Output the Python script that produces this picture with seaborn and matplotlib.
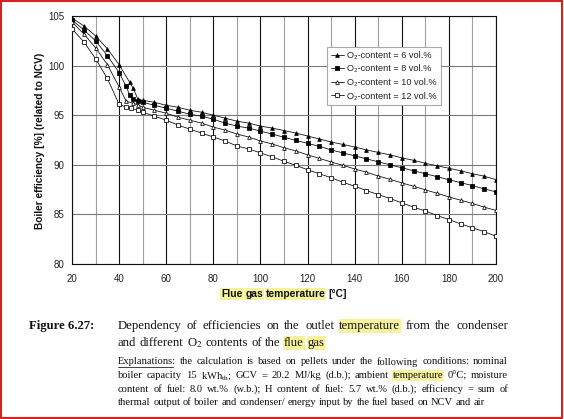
import numpy as np
import pandas as pd
import matplotlib
matplotlib.use("Agg")
import matplotlib.pyplot as plt
import seaborn as sns
from matplotlib.lines import Line2D
from matplotlib.patches import Rectangle
from matplotlib.ticker import MultipleLocator

# ---------------- data ----------------
temp_tail = [50, 55, 60, 65, 70, 75, 80, 85, 90, 95, 100, 105, 110, 115, 120, 125,
             130, 135, 140, 145, 150, 155, 160, 165, 170, 175, 180, 185, 190, 195, 200]

temp_o6 = [20, 25, 30, 35, 40, 44.5, 46, 48] + temp_tail
eff_o6 = [104.8, 104.0, 103.0, 101.7, 100.1, 98.3, 97.7, 96.6,
          96.5, 96.3, 96.0, 95.8, 95.5, 95.3, 95.0, 94.7, 94.4, 94.2, 93.9, 93.7,
          93.45, 93.2, 92.9, 92.6, 92.3, 92.05, 91.8, 91.5, 91.25, 91.0, 90.7, 90.45,
          90.15, 89.9, 89.65, 89.4, 89.1, 88.85, 88.5]

temp_o8 = [20, 25, 30, 35, 40, 43, 44.5, 46, 48] + temp_tail
eff_o8 = [104.6, 103.6, 102.5, 101.0, 99.3, 97.9, 97.0, 96.6, 96.4,
          96.3, 96.0, 95.7, 95.4, 95.1, 94.9, 94.6, 94.2, 93.9, 93.7, 93.4, 93.1,
          92.77, 92.46, 92.16, 91.86, 91.5, 91.2, 90.9, 90.6, 90.3, 90.0, 89.7, 89.4,
          89.1, 88.8, 88.5, 88.2, 87.9, 87.57, 87.27]

temp_o10 = [20, 25, 30, 35, 40, 43, 46, 48] + temp_tail
eff_o10 = [104.4, 103.2, 101.8, 100.1, 97.85, 96.4, 96.2, 96.05,
           95.8, 95.5, 95.2, 94.8, 94.5, 94.2, 93.8, 93.5, 93.1, 92.8, 92.4, 92.1,
           91.72, 91.4, 91.0, 90.65, 90.28, 89.95, 89.58, 89.25, 88.87, 88.54, 88.17,
           87.84, 87.47, 87.13, 86.76, 86.43, 86.1, 85.73, 85.4]

temp_o12 = [20, 25, 30, 35, 40, 43, 45, 48] + temp_tail
eff_o12 = [103.7, 102.4, 100.7, 98.7, 96.1, 95.8, 95.7, 95.5,
           95.3, 94.9, 94.5, 94.0, 93.6, 93.2, 92.8, 92.4, 91.9, 91.6, 91.2, 90.8,
           90.35, 89.95, 89.5, 89.1, 88.7, 88.24, 87.84, 87.4, 87.0, 86.6, 86.16,
           85.73, 85.35, 84.88, 84.48, 84.05, 83.65, 83.25, 82.8]

series_labels = ["O\u2082-content = 6 vol.%", "O\u2082-content = 8 vol.%",
                 "O\u2082-content = 10 vol.%", "O\u2082-content = 12 vol.%"]
x_ticks = [20, 40, 60, 80, 100, 120, 140, 160, 180, 200]
y_ticks = [80, 85, 90, 95, 100, 105]

xlabel_words = ["Flue", "gas", "temperature", "[°C]"]
ylabel_text = "Boiler efficiency [%] (related to NCV)"
fig_label = "Figure 6.27:"
caption_lines = ["Dependency of efficiencies on the outlet temperature from the condenser",
                 "and different O$_2$ contents of the flue gas"]
expl_lines = ["Explanations: the calculation is based on pellets under the following conditions: nominal",
              "boiler capacity 15 kWh$_{\\mathrm{th}}$; GCV = 20.2 MJ/kg (d.b.); ambient temperature 0°C; moisture",
              "content of fuel: 8.0 wt.% (w.b.); H content of fuel: 5.7 wt.% (d.b.); efficiency = sum of",
              "thermal output of boiler and condenser/ energy input by the fuel based on NCV and air"]

# ---------------- figure ----------------
sns.set_theme(style="white")
plt.rcParams["font.family"] = ["Liberation Sans", "DejaVu Sans"]
plt.rcParams["mathtext.fontset"] = "stix"

W, H = 564, 419
fig = plt.figure(figsize=(W / 100, H / 100), dpi=100)
fig.patch.set_facecolor("white")

def fx(x):
    return x / W

def fy(y):
    return 1 - y / H

ax = fig.add_axes([fx(72), fy(264), (496 - 72) / W, (264 - 16) / H])
ax.set_facecolor("white")

styles = [("^", "black"), ("s", "black"), ("^", "white"), ("s", "white")]
data = [(temp_o6, eff_o6), (temp_o8, eff_o8), (temp_o10, eff_o10), (temp_o12, eff_o12)]
for (xs, ys), lab, (mk, fc) in zip(data, series_labels, styles):
    df = pd.DataFrame({"temp": xs, "eff": ys})
    sns.lineplot(data=df, x="temp", y="eff", ax=ax, color="black", lw=0.55,
                 marker=mk, markersize=2.7, markerfacecolor=fc,
                 markeredgecolor="black", markeredgewidth=0.55, label=lab,
                 sort=True, zorder=3)

ax.set_xlim(20, 200)
ax.set_ylim(80, 105)
ax.set_xticks(x_ticks)
ax.set_yticks(y_ticks)
ax.xaxis.set_minor_locator(MultipleLocator(10))
ax.grid(which="major", axis="x", color="#111111", lw=0.8)
ax.grid(which="minor", axis="x", color="#a0a0a0", lw=0.8)
ax.grid(which="major", axis="y", color="#7a7a7a", lw=0.8)
ax.set_axisbelow(True)
ax.tick_params(axis="both", which="both", length=0, labelsize=7.0, colors="#222222")
ax.tick_params(axis="x", pad=7)
ax.tick_params(axis="y", pad=5.5)
for sp in ax.spines.values():
    sp.set_color("#111111")
    sp.set_linewidth(0.8)
ax.set_xlabel("")
ax.set_ylabel("")

leg = ax.legend(loc="upper left", bbox_to_anchor=(0.601, 0.876), borderaxespad=0,
                fontsize=6.6, frameon=True, fancybox=False, edgecolor="#a8a8a8",
                framealpha=1, handlelength=1.4, handletextpad=0.4, borderpad=0.45,
                labelspacing=0.5)
leg.get_frame().set_linewidth(0.8)
for t in leg.get_texts():
    t.set_color("#222222")

fig.text(fx(40), fy(141), ylabel_text, rotation=90, ha="center", va="center",
         fontsize=7.3, fontweight="bold", color="#111111")

# ---------------- word placement helpers ----------------
fig.canvas.draw()
renderer = fig.canvas.get_renderer()
HL = "#f7f29c"

def word_width(s, **kw):
    t = fig.text(0, 0, s, **kw)
    w = t.get_window_extent(renderer).width
    t.remove()
    return w

def place_words(words, y, x0=None, x1=None, center=None, hl=(), ul=(), **kw):
    widths = [word_width(w, **kw) for w in words]
    space = word_width("a b", **kw) - word_width("ab", **kw)
    if x1 is not None:
        gap = (x1 - x0 - sum(widths)) / (len(words) - 1)
    else:
        gap = space
    total = sum(widths) + gap * (len(words) - 1)
    if center is not None:
        x0 = center - total / 2
    x = x0
    for w, wd in zip(words, widths):
        box = dict(facecolor=HL, edgecolor="none", pad=0.5) if w in hl else None
        fig.text(fx(x), fy(y), w, ha="left", va="center", bbox=box, **kw)
        if w in ul:
            uw = word_width(w.rstrip(":"), **kw)
            fig.add_artist(Line2D([fx(x), fx(x + uw)], [fy(y + 5), fy(y + 5)],
                                  transform=fig.transFigure, color="#222222", lw=0.6))
        x += wd + gap

# x label with highlighted words
place_words(xlabel_words, 294, center=284, hl=("Flue", "gas", "temperature"),
            fontsize=7.4, fontweight="bold", color="#111111")

serif = ["Liberation Serif", "DejaVu Serif"]
fig.text(fx(29), fy(326), fig_label, ha="left", va="center", fontsize=9.2,
         fontweight="bold", family=serif, color="#111111")
place_words(caption_lines[0].split(" "), 326, x0=118, x1=508, hl=("temperature",),
            fontsize=9.2, family=serif, color="#111111")
place_words(caption_lines[1].split(" "), 343, x0=118, hl=("flue", "gas"),
            fontsize=9.2, family=serif, color="#111111")

expl_y = [362, 375.5, 389, 402.5]
for i, (line, yy) in enumerate(zip(expl_lines, expl_y)):
    words = line.split(" ")
    last = i == len(expl_lines) - 1
    place_words(words, yy, x0=118, x1=None if last else 508,
                hl=("temperature",), ul=("Explanations:",),
                fontsize=7.6, family=serif, color="#111111")

# red frame around the whole picture
fig.add_artist(Rectangle((fx(0.8), fy(417.5)), (561.5 - 0.8) / W, (417.5 - 0.8) / H,
                         transform=fig.transFigure, fill=False,
                         edgecolor="#dd1f1f", lw=1.5))

fig.savefig("out.png", dpi=100, facecolor="white")
